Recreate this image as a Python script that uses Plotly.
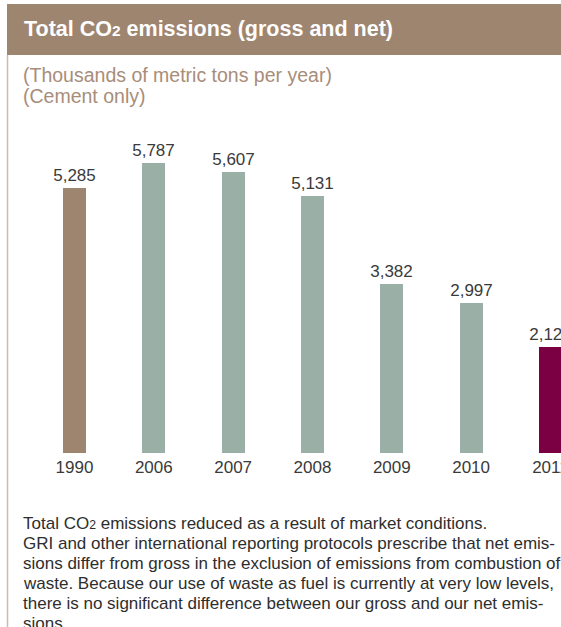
import plotly.graph_objects as go

# Data
years = ["1990", "2006", "2007", "2008", "2009", "2010", "2011"]
emissions = [5285, 5787, 5607, 5131, 3382, 2997, 2126]
bar_colors = ["#9e8570", "#9aafa6", "#9aafa6", "#9aafa6", "#9aafa6", "#9aafa6", "#7b0043"]

SUB2 = '<span style="font-size:72%">2</span>'
title_text = f"Total CO{SUB2} emissions (gross and net)"
subtitle_lines = ["(Thousands of metric tons per year)", "(Cement only)"]
note_lines = [
    f"Total CO{SUB2} emissions reduced as a result of market conditions.",
    "GRI and other international reporting protocols prescribe that net emis-",
    "sions differ from gross in the exclusion of emissions from combustion of",
    "waste. Because our use of waste as fuel is currently at very low levels,",
    "there is no significant difference between our gross and our net emis-",
    "sions.",
]

W, H = 561, 627
M_T, M_B = 130, 174
PLOT_H = H - M_T - M_B
FONT = "Liberation Sans, Arial, sans-serif"


def py(p):
    """Pixel row (from top) to paper y."""
    return (H - M_B - p) / PLOT_H


def px(p):
    return p / W


fig = go.Figure(
    go.Bar(
        x=years,
        y=emissions,
        marker=dict(color=bar_colors, line=dict(width=0)),
        width=0.29,
        text=[f"{v:,}" for v in emissions],
        textposition="outside",
        constraintext="none",
        textfont=dict(family=FONT, size=17, color="#3a3a3a"),
        cliponaxis=True,
        hoverinfo="skip",
    )
)

shapes = [
    # header band
    dict(type="rect", xref="paper", yref="paper", x0=px(7), x1=px(W + 5),
         y0=py(55), y1=py(4), fillcolor="#9e8570", line=dict(width=0), layer="above"),
    # left rule
    dict(type="line", xref="paper", yref="paper", x0=px(7.5), x1=px(7.5),
         y0=py(H + 5), y1=py(55), line=dict(color="#cdbdb0", width=1.5), layer="above"),
]

annotations = [
    dict(text=title_text, xref="paper", yref="paper", x=px(22), y=py(29),
         xanchor="left", yanchor="middle", showarrow=False,
         font=dict(family=FONT, size=21.5, color="#ffffff", weight="bold")),
]
for i, line in enumerate(subtitle_lines):
    annotations.append(dict(text=line, xref="paper", yref="paper", x=px(21), y=py(75 + 21 * i),
                            xanchor="left", yanchor="middle", showarrow=False,
                            font=dict(family=FONT, size=19.5, color="#a88d79")))
for i, line in enumerate(note_lines):
    annotations.append(dict(text=line, xref="paper", yref="paper", x=px(21), y=py(523 + 20 * i),
                            xanchor="left", yanchor="middle", showarrow=False,
                            font=dict(family=FONT, size=17, color="#2e2e2e")))

fig.update_layout(
    width=W, height=H,
    margin=dict(l=0, r=0, t=M_T, b=M_B, pad=0, autoexpand=False),
    paper_bgcolor="#ffffff", plot_bgcolor="#ffffff",
    showlegend=False,
    bargap=0,
    shapes=shapes,
    annotations=annotations,
    xaxis=dict(type="category", range=[-0.939, 6.133], showgrid=False, zeroline=False,
               showline=False, ticks="", automargin=False, ticklabelstandoff=2,
               tickfont=dict(family=FONT, size=17, color="#3a3a3a"),
               fixedrange=True),
    yaxis=dict(range=[0, PLOT_H / 0.05009], visible=False, fixedrange=True, automargin=False),
)

fig.write_html("out.html", config={"displayModeBar": False})
